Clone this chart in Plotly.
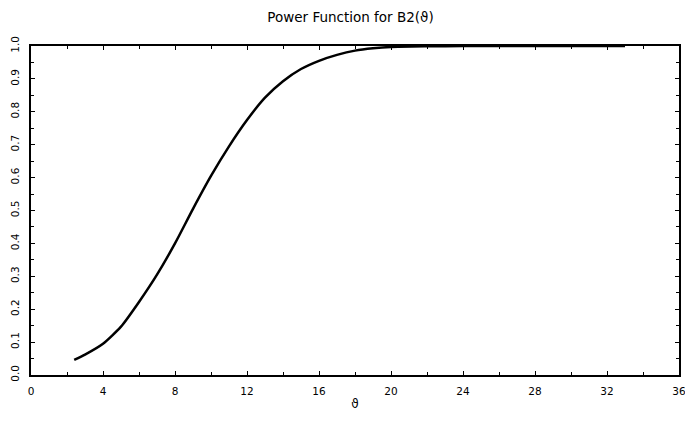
import plotly.graph_objects as go

theta = [2.4, 3, 4, 5, 6, 7, 8, 9, 10, 11, 12, 13, 14, 15, 16, 17, 18, 19, 20, 22, 24, 28, 33]
power = [0.046, 0.062, 0.095, 0.147, 0.222, 0.305, 0.400, 0.505, 0.605, 0.695, 0.775,
         0.843, 0.893, 0.930, 0.955, 0.973, 0.986, 0.993, 0.997, 0.999, 1.0, 1.0, 1.0]

x_ticks = [0, 4, 8, 12, 16, 20, 24, 28, 32, 36]
y_ticks = [0.0, 0.1, 0.2, 0.3, 0.4, 0.5, 0.6, 0.7, 0.8, 0.9, 1.0]
y_labels = ["0.0", "0.1", "0.2", "0.3", "0.4", "0.5", "0.6", "0.7", "0.8", "0.9", "1.0"]

fig = go.Figure()
fig.add_trace(go.Scatter(x=theta, y=power, mode="lines",
                         line=dict(color="black", width=2.5, shape="spline", smoothing=0.6),
                         showlegend=False, hoverinfo="skip"))

# page body has an 8px default margin, so the figure is sized to fit inside the window
font = dict(family="DejaVu Sans", color="black")
fig.update_layout(
    width=685, height=418,
    margin=dict(l=23, r=14, t=38, b=51),
    paper_bgcolor="white", plot_bgcolor="white",
    title=dict(text="Power Function for B2(ϑ)", x=0.5, xanchor="center",
               yref="container", y=0.99, yanchor="top",
               font=dict(size=13.5, **font)),
    font=dict(size=11, **font),
)
fig.update_xaxes(range=[0, 36], tickvals=x_ticks, ticktext=[str(v) for v in x_ticks],
                 ticks="inside", ticklen=4, tickcolor="black", tickwidth=1,
                 minor=dict(dtick=2, ticks="inside", ticklen=3, tickcolor="black"),
                 showline=True, linecolor="black", linewidth=2, mirror="ticks",
                 showgrid=False, zeroline=False, automargin=False,
                 ticklabelstandoff=5, ticklabeloverflow="allow",
                 title=dict(text="ϑ", font=dict(size=12, **font), standoff=4),
                 tickfont=dict(size=10.5, **font))
fig.update_yaxes(range=[0, 1], tickvals=y_ticks, ticktext=y_labels, tickangle=-90,
                 ticks="inside", ticklen=4, tickcolor="black", tickwidth=1,
                 minor=dict(dtick=0.05, ticks="inside", ticklen=3, tickcolor="black"),
                 showline=True, linecolor="black", linewidth=2, mirror="ticks",
                 showgrid=False, zeroline=False, automargin=False,
                 ticklabelstandoff=6, ticklabeloverflow="allow",
                 tickfont=dict(size=10.5, **font))

fig.write_html("out.html")
